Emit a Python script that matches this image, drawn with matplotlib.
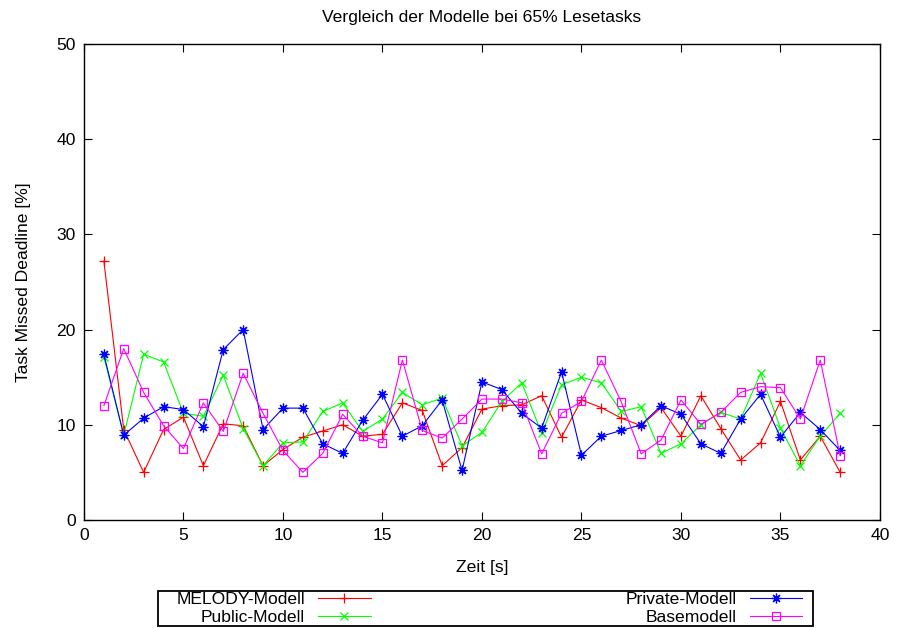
import matplotlib
matplotlib.use("Agg")
import matplotlib.pyplot as plt
from matplotlib.patches import Rectangle

plt.rcParams['font.family'] = ['Liberation Sans', 'DejaVu Sans']

title = "Vergleich der Modelle bei 65% Lesetasks"
xlabel = "Zeit [s]"
ylabel = "Task Missed Deadline [%]"

zeit = list(range(1, 39))

melody = [27.2, 9.5, 5.0, 9.5, 10.8, 5.7, 10.1, 9.9, 5.7, 7.4,
          8.7, 9.35, 10.0, 8.8, 9.0, 12.3, 11.5, 5.7, 7.6, 11.65,
          12.0, 12.1, 13.05, 8.7, 12.6, 11.8, 10.7, 9.9, 11.8, 8.8,
          13.05, 9.6, 6.3, 8.1, 12.45, 6.3, 8.8, 5.0]
public = [17.1, 8.9, 17.4, 16.6, 11.2, 10.9, 15.2, 9.6, 5.7, 8.1,
          8.2, 11.4, 12.3, 9.3, 10.6, 13.4, 12.1, 12.8, 7.8, 9.2,
          12.45, 14.4, 9.1, 14.2, 15.0, 14.4, 11.4, 11.9, 7.0, 8.0,
          10.0, 11.3, 10.6, 15.4, 9.65, 5.7, 8.8, 11.2]
private = [17.4, 8.9, 10.7, 11.9, 11.6, 9.8, 17.9, 20.0, 9.5, 11.75,
           11.75, 8.0, 7.0, 10.45, 13.2, 8.8, 9.9, 12.6, 5.2, 14.5,
           13.7, 11.2, 9.65, 15.55, 6.8, 8.8, 9.4, 10.0, 12.0, 11.1,
           8.0, 7.0, 10.6, 13.2, 8.7, 11.3, 9.5, 7.3]
base = [12.0, 18.0, 13.4, 9.9, 7.5, 12.3, 9.3, 15.4, 11.2, 7.3,
        5.0, 7.0, 11.1, 8.8, 8.1, 16.8, 9.4, 8.6, 10.6, 12.7,
        12.7, 12.3, 6.95, 11.2, 12.45, 16.8, 12.4, 6.95, 8.4, 12.6,
        10.05, 11.3, 13.4, 14.0, 13.9, 10.6, 16.8, 6.75]

labels = ["MELODY-Modell", "Public-Modell", "Private-Modell", "Basemodell"]

FS = 12.6
fig = plt.figure(figsize=(8.97, 6.28), dpi=100)
ax = fig.add_axes([0.0936, 0.172, 0.8874, 0.758])

LW = 0.8
h1, = ax.plot(zeit, melody, color='#ff0000', lw=LW, marker='+', ms=6.5, mew=0.9, label=labels[0])
h2, = ax.plot(zeit, public, color='#00ff00', lw=LW, marker='x', ms=5.2, mew=0.9, label=labels[1])
h3, = ax.plot(zeit, private, color='#0000ff', lw=LW, marker=(8, 2, 0), ms=7, mew=0.9, label=labels[2])
h4, = ax.plot(zeit, base, color='#ff00ff', lw=LW, marker='s', ms=5.8, mew=0.9, mfc='none', label=labels[3])

ax.set_xlim(0, 40)
ax.set_ylim(0, 50)
ax.set_xticks(range(0, 41, 5))
ax.set_yticks(range(0, 51, 10))
ax.tick_params(direction='in', length=5.5, width=0.8, top=True, right=True, labelsize=FS, pad=6)
for s in ax.spines.values():
    s.set_linewidth(1.0)
    s.set_color('black')

ax.set_title(title, fontsize=FS, pad=16)
ax.set_xlabel(xlabel, fontsize=FS, labelpad=12)
ax.set_ylabel(ylabel, fontsize=FS, labelpad=18)

# legend frame drawn separately (gnuplot-like key box)
fig.patches.append(Rectangle((158/897, (628-626)/628), (813-158)/897, (626-591)/628,
                             transform=fig.transFigure, fill=False, edgecolor='black',
                             linewidth=1.3))

leg = fig.legend(handles=[h1, h2, h3, h4], ncol=2, markerfirst=False,
                 loc='center right', bbox_to_anchor=(802/897, (628-608.5)/628),
                 fontsize=FS, frameon=False,
                 handlelength=3.0, labelspacing=0.12, borderpad=0,
                 handletextpad=0.75, columnspacing=14.55, borderaxespad=0)

fig.savefig("out.png", dpi=100)
